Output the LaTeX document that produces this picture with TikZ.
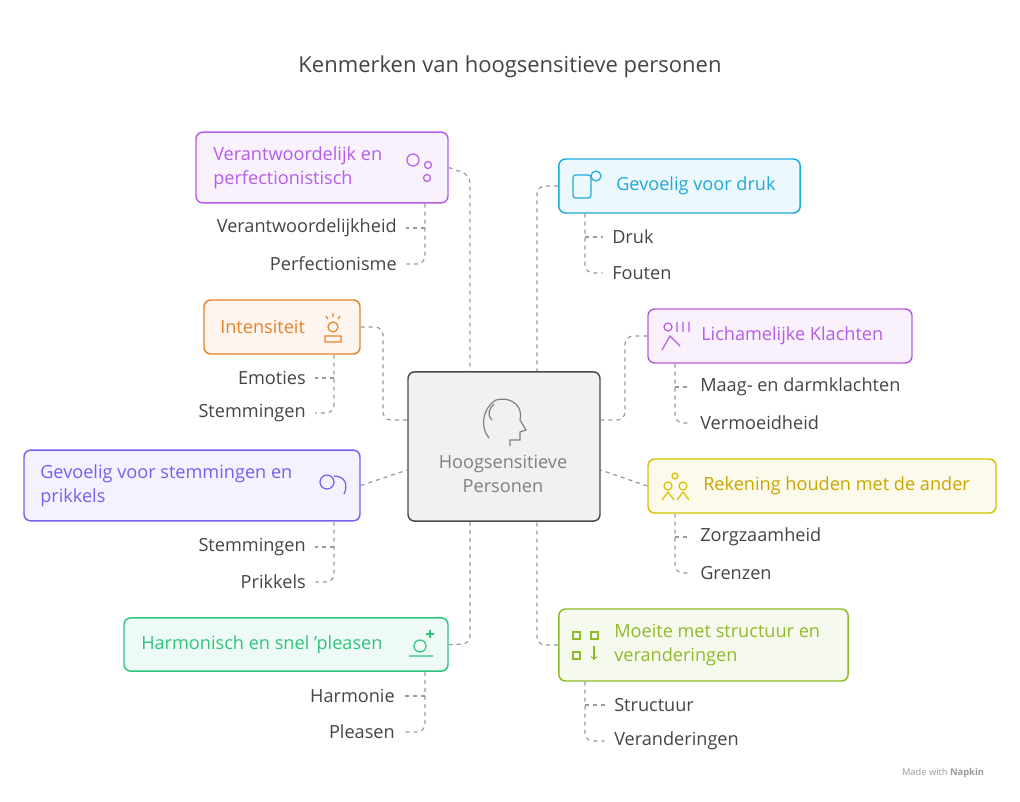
\documentclass[tikz,border=0pt]{standalone}
\usepackage{fontspec}
\setmainfont{Open Sans}
\usetikzlibrary{positioning}
\definecolor{cpurple}{HTML}{B65CE6}
\definecolor{corange}{HTML}{E8822A}
\definecolor{cviolet}{HTML}{7A5CF0}
\definecolor{cgreen}{HTML}{2FC47E}
\definecolor{ccyan}{HTML}{1EAAD9}
\definecolor{cyellow}{HTML}{D9C100}
\definecolor{cyelltxt}{HTML}{C9A600}
\definecolor{clime}{HTML}{8FBA2A}
\definecolor{ctext}{HTML}{444444}
\definecolor{cdark}{HTML}{4A4A4A}
\tikzset{
  box/.style={draw=#1, fill=#1!8, rounded corners=5pt, line width=1.1pt, inner sep=0pt},
  boxtext/.style={text=#1, font=\fontsize{13.6}{18}\selectfont, align=left, inner sep=0pt},
  sub/.style={text=ctext, font=\fontsize{13.6}{18}\selectfont, inner sep=0pt},
  link/.style={draw=gray!80, dashed, line width=0.9pt, rounded corners=6pt},
  leaf/.style={link, shorten >=7pt},
  icon/.style={draw=#1, line width=0.9pt}
}
\begin{document}
\begin{tikzpicture}[x=0.75pt, y=-0.75pt]
  \useasboundingbox (0,0) rectangle (1020,801);
  \node[text=ctext, font=\fontsize{16.5}{20}\selectfont] (title) at (510,67) {Kenmerken van hoogsensitieve personen};

  % centre
  \node[box=cdark, minimum width=144pt, minimum height=112pt] (Hsp) at (504,446.5) {};
  \node[text=gray, font=\fontsize{13.6}{18}\selectfont, align=center] (Hspt) at (503,474) {Hoogsensitieve\\Personen};
  \draw[icon=gray] (489,438) .. controls (480,428) and (482,408) .. (496,400) .. controls (514,396) and (523,408) .. (520,420)
    -- (526,430) -- (520,432) -- (520,440) -- (510,440) -- (510,446);
  \draw[icon=gray] (492,420) .. controls (486,414) and (490,408) .. (494,404);

  % left boxes
  \node[box=cpurple, minimum width=189pt, minimum height=53pt] (Verant) at (322,167.5) {};
  \node[boxtext=cpurple, anchor=west] (Verantt) at (213,167.5) {Verantwoordelijk en\\perfectionistisch};
  \draw[icon=cpurple] (413,160) circle (6) (428,165) circle (3.5) (427,178) circle (3.5);
  \node[box=corange, minimum width=117pt, minimum height=40.5pt] (Intens) at (282,327) {};
  \node[boxtext=corange, anchor=west] (Intenst) at (220,327) {Intensiteit};
  \draw[icon=corange] (333,327) circle (5) (325,342) -- (325,336) -- (341,336) -- (341,342) -- cycle;
  \draw[icon=corange] (326,316) -- (328,319) (333,313) -- (333,317) (340,316) -- (338,319);
  \node[box=cviolet, minimum width=252pt, minimum height=53pt] (Gevst) at (192,485.5) {};
  \node[boxtext=cviolet, anchor=west] (Gevstt) at (40,485.5) {Gevoelig voor stemmingen en\\prikkels};
  \draw[icon=cviolet] (327,482) circle (7) (334,476) .. controls (346,476) and (348,486) .. (344,494);
  \node[box=cgreen, minimum width=243pt, minimum height=40pt] (Harm) at (286,644.5) {};
  \node[boxtext=cgreen, anchor=west] (Harmt) at (141,644.5) {Harmonisch en snel 'pleasen};
  \draw[icon=cgreen] (420,646) circle (6) (409,656) -- (433,656);
  \draw[icon=cgreen] (430,630) -- (430,638) (426,634) -- (434,634);

  % right boxes
  \node[box=ccyan, minimum width=181pt, minimum height=40.5pt] (Druk) at (679.5,186) {};
  \node[boxtext=ccyan, anchor=west] (Drukt) at (616,186) {Gevoelig voor druk};
  \draw[icon=ccyan, rounded corners=2pt] (573,175) rectangle (591,198);
  \draw[icon=ccyan] (596,176) circle (5);
  \node[box=cpurple, minimum width=198pt, minimum height=40.5pt] (Licham) at (780,336) {};
  \node[boxtext=cpurple, anchor=west] (Lichamt) at (701,336) {Lichamelijke Klachten};
  \draw[icon=cpurple] (668,327) circle (4) (662,350) -- (670,336) -- (680,346) (677,322) -- (677,332) (683,322) -- (683,332) (689,322) -- (689,332);
  \node[box=cyellow, minimum width=261pt, minimum height=40.5pt] (Reken) at (822,486) {};
  \node[boxtext=cyelltxt, anchor=west] (Rekent) at (703,486) {Rekening houden met de ander};
  \draw[icon=cyellow] (668,486) circle (4) (683,486) circle (4) (662,500) -- (668,492) -- (674,500) (677,500) -- (683,492) -- (689,500) (675,476) circle (3);
  \node[box=clime, minimum width=217pt, minimum height=54pt] (Moeite) at (703.5,645) {};
  \node[boxtext=clime, anchor=west] (Moeitet) at (614,645) {Moeite met structuur en\\veranderingen};
  \draw[icon=clime] (573,632) rectangle (580,639) (591,632) rectangle (598,639) (573,652) rectangle (580,659);
  \draw[icon=clime, ->] (594,646) -- (594,660);

  % sub items
  \node[sub, anchor=east] (Vw1) at (397,228) {Verantwoordelijkheid};
  \node[sub, anchor=east] (Vw2) at (397,264) {Perfectionisme};
  \node[sub, anchor=east] (In1) at (306,378) {Emoties};
  \node[sub, anchor=east] (In2) at (306,413) {Stemmingen};
  \node[sub, anchor=east] (Gs1) at (306,547) {Stemmingen};
  \node[sub, anchor=east] (Gs2) at (306,582) {Prikkels};
  \node[sub, anchor=east] (Hm1) at (395,696) {Harmonie};
  \node[sub, anchor=east] (Hm2) at (395,732) {Pleasen};
  \node[sub, anchor=west] (Dr1) at (612,237) {Druk};
  \node[sub, anchor=west] (Dr2) at (612,273) {Fouten};
  \node[sub, anchor=west] (Lk1) at (700,387) {Maag- en darmklachten};
  \node[sub, anchor=west] (Lk2) at (700,423) {Vermoeidheid};
  \node[sub, anchor=west] (Rk1) at (700,537) {Zorgzaamheid};
  \node[sub, anchor=west] (Rk2) at (700,573) {Grenzen};
  \node[sub, anchor=west] (Ms1) at (614,705) {Structuur};
  \node[sub, anchor=west] (Ms2) at (614,741) {Veranderingen};

  % branches
  \draw[link] (Verant.east) -- (470,175) -- (Hsp.north -| 470,0);
  \draw[link] (Intens.east) -- (383,327) -- (383,420) -- (Hsp.west |- 0,420);
  \draw[link] (Gevst.east) -- (Hsp.west |- 0,470);
  \draw[link] (Harm.east) -- (470,644) -- (Hsp.south -| 470,0);
  \draw[link] (Druk.west) -- (537,186) -- (Hsp.north -| 537,0);
  \draw[link] (Licham.west) -- (625,336) -- (625,420) -- (Hsp.east |- 0,420);
  \draw[link] (Reken.west) -- (Hsp.east |- 0,470);
  \draw[link] (Moeite.west) -- (537,645) -- (Hsp.south -| 537,0);

  % leaves
  \draw[leaf] (Verant.south -| 425,0) -- (425,264) -- (Vw2.east);
  \draw[leaf] (425,228) -- (Vw1.east);
  \draw[leaf] (Intens.south -| 334,0) -- (334,413) -- (In2.east);
  \draw[leaf] (334,378) -- (In1.east);
  \draw[leaf] (Gevst.south -| 334,0) -- (334,582) -- (Gs2.east);
  \draw[leaf] (334,547) -- (Gs1.east);
  \draw[leaf] (Harm.south -| 425,0) -- (425,732) -- (Hm2.east);
  \draw[leaf] (425,696) -- (Hm1.east);
  \draw[leaf] (Druk.south -| 585,0) -- (585,273) -- (Dr2.west);
  \draw[leaf] (585,237) -- (Dr1.west);
  \draw[leaf] (Licham.south -| 675,0) -- (675,423) -- (Lk2.west);
  \draw[leaf] (675,387) -- (Lk1.west);
  \draw[leaf] (Reken.south -| 675,0) -- (675,573) -- (Rk2.west);
  \draw[leaf] (675,537) -- (Rk1.west);
  \draw[leaf] (Moeite.south -| 585,0) -- (585,741) -- (Ms2.west);
  \draw[leaf] (585,705) -- (Ms1.west);

  \node[text=gray!80, font=\fontsize{7}{9}\selectfont] (made) at (943,773) {Made with \textbf{Napkin}};
\end{tikzpicture}
\end{document}
